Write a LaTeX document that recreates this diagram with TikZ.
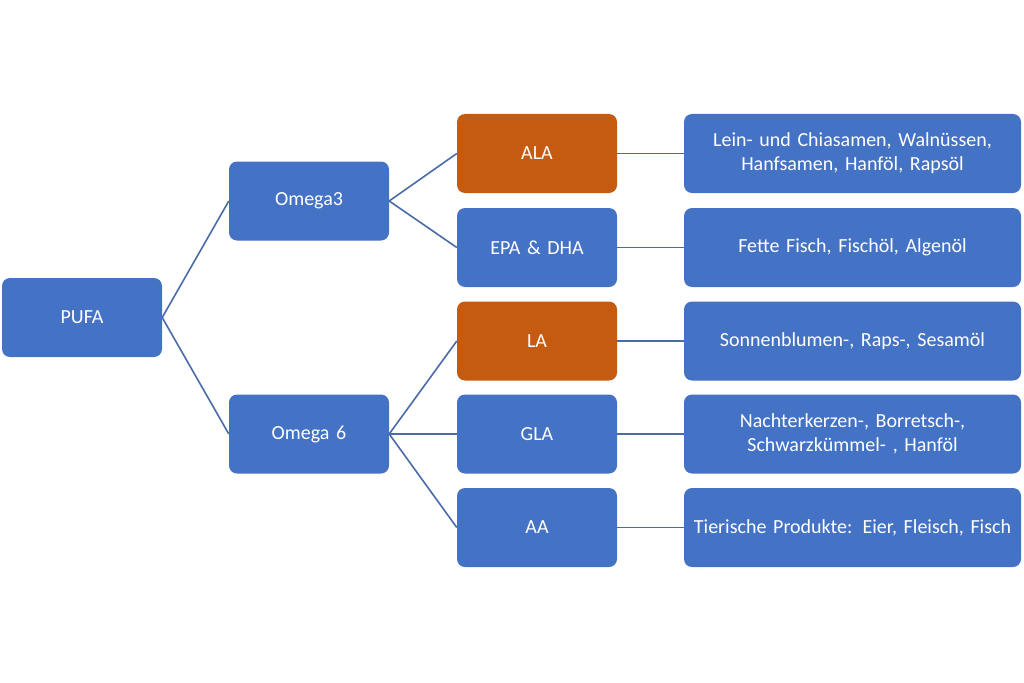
\documentclass[tikz,border=0pt]{standalone}
\usepackage{fontspec}
\setmainfont{Carlito}
\definecolor{boxblue}{HTML}{4472C4}
\definecolor{boxorange}{HTML}{C55A11}
\definecolor{linkblue}{HTML}{4A6AA8}
\begin{document}
\begin{tikzpicture}[x=1pt,y=-1pt,
  box/.style={fill=boxblue, rounded corners=8pt, text=white, align=center,
    inner sep=0pt, minimum height=79pt, font=\fontsize{20}{24}\selectfont},
  small/.style={box, minimum width=160pt, text width=156pt},
  wide/.style={box, minimum width=337pt, text width=333pt},
  hot/.style={fill=boxorange},
  link/.style={draw=linkblue, line width=1.6pt}]
\useasboundingbox (0,0) rectangle (1024,682);
\node[small] (pufa) at (82,317.5) {PUFA};
\node[small] (o3) at (309,201) {Omega3};
\node[small] (o6) at (309,434) {Omega 6};
\node[small,hot] (ala) at (537,153.5) {ALA};
\node[small] (epa) at (537,247.5) {EPA \& DHA};
\node[small,hot] (la) at (537,341) {LA};
\node[small] (gla) at (537,434) {GLA};
\node[small] (aa) at (537,527.5) {AA};
\node[wide] (ala2) at (852.5,153.5) {Lein- und Chiasamen, Walnüssen,\\Hanfsamen, Hanföl, Rapsöl};
\node[wide] (epa2) at (852.5,247.5) {Fette Fisch, Fischöl, Algenöl};
\node[wide] (la2) at (852.5,341) {Sonnenblumen-, Raps-, Sesamöl};
\node[wide] (gla2) at (852.5,434) {Nachterkerzen-, Borretsch-,\\Schwarzkümmel- , Hanföl};
\node[wide] (aa2) at (852.5,527.5) {Tierische Produkte: Eier, Fleisch, Fisch};
\draw[link] (pufa.east) -- (o3.west);
\draw[link] (pufa.east) -- (o6.west);
\draw[link] (o3.east) -- (ala.west);
\draw[link] (o3.east) -- (epa.west);
\draw[link] (o6.east) -- (la.west);
\draw[link] (o6.east) -- (gla.west);
\draw[link] (o6.east) -- (aa.west);
\draw[link] (ala.east) -- (ala2.west);
\draw[link] (epa.east) -- (epa2.west);
\draw[link] (la.east) -- (la2.west);
\draw[link] (gla.east) -- (gla2.west);
\draw[link] (aa.east) -- (aa2.west);
\end{tikzpicture}
\end{document}
